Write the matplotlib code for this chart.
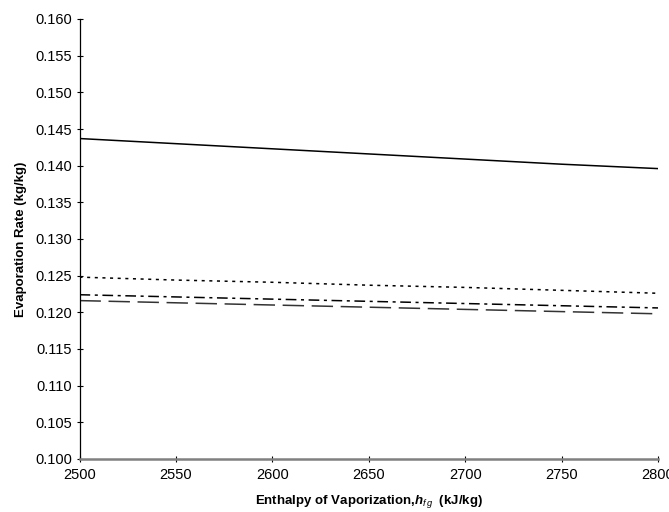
import matplotlib
matplotlib.use("Agg")
import matplotlib.pyplot as plt

plt.rcParams['font.family'] = ['Liberation Sans', 'DejaVu Sans']
plt.rcParams['mathtext.fontset'] = 'custom'
plt.rcParams['mathtext.rm'] = 'Liberation Sans'
plt.rcParams['mathtext.it'] = 'Liberation Sans:italic'
plt.rcParams['mathtext.bf'] = 'Liberation Sans:bold'
plt.rcParams['mathtext.bfit'] = 'Liberation Sans:bold:italic'

hfg = [2500, 2550, 2600, 2650, 2700, 2750, 2800]
solid = [0.1437, 0.1430, 0.1423, 0.1416, 0.1409, 0.1402, 0.1396]
dotted = [0.1248, 0.1244, 0.1241, 0.1237, 0.1234, 0.1230, 0.1226]
dashdot = [0.1224, 0.1221, 0.1218, 0.1215, 0.1212, 0.1209, 0.1206]
longdash = [0.1216, 0.1213, 0.1210, 0.1207, 0.1204, 0.1201, 0.1198]

xticks = [2500, 2550, 2600, 2650, 2700, 2750, 2800]
yticks = [0.100, 0.105, 0.110, 0.115, 0.120, 0.125, 0.130, 0.135, 0.140, 0.145, 0.150, 0.155, 0.160]

fig = plt.figure(figsize=(6.69, 5.12), dpi=100)
ax = fig.add_axes([79.5/669, 1 - 459/512, (658-79.5)/669, (459-19)/512])

ax.plot(hfg, solid, color='black', lw=1.1, ls='-')
ax.plot(hfg, dotted, color='black', lw=1.1, ls=(0, (2, 3)))
ax.plot(hfg, dashdot, color='black', lw=1.1, ls=(0, (7, 3, 2, 3)))
ax.plot(hfg, longdash, color='#333333', lw=1.1, ls=(0, (14, 5)))

ax.set_xlim(2500, 2800)
ax.set_ylim(0.100, 0.160)
ax.set_xticks(xticks)
ax.set_yticks(yticks)
ax.set_xticklabels([str(v) for v in xticks])
ax.set_yticklabels([f"{v:.3f}" for v in yticks])
ax.tick_params(axis='both', labelsize=10.5, length=5, width=0.8, direction='inout', color='black')
ax.tick_params(axis='y', pad=3)
ax.tick_params(axis='x', pad=4)
for s in ['top', 'right']:
    ax.spines[s].set_visible(False)
ax.spines['left'].set_color('black')
ax.spines['left'].set_linewidth(0.9)
ax.spines['bottom'].set_color('#808080')
ax.spines['bottom'].set_linewidth(1.8)

ax.set_ylabel('Evaporation Rate (kg/kg)', fontsize=9.5, fontweight='bold', labelpad=6)
ax.set_xlabel(r'Enthalpy of Vaporization,$\mathbfit{h}_{\mathit{f\,g}}$  (kJ/kg)', fontsize=9.5, fontweight='bold', labelpad=8)

fig.savefig('out.png', dpi=100)
